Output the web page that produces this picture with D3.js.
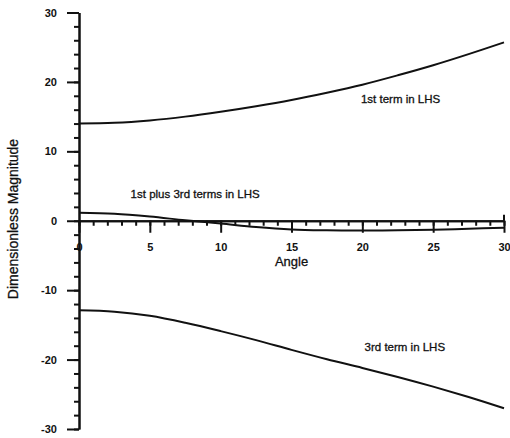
<!DOCTYPE html>
<html>
<head>
<meta charset="utf-8">
<script src="https://cdn.jsdelivr.net/npm/d3@7.9.0/dist/d3.min.js"></script>
<style>
  body { margin: 0; background: #fff; }
  svg { display: block; font-family: "Liberation Sans", Arial, sans-serif; }
  .tick text { font-weight: bold; font-size: 11px; fill: #111; }
  .domain, .tick line { stroke: #111; stroke-width: 2; }
</style>
</head>
<body>
<svg id="chart" width="510" height="438"></svg>
<script>
// --- DATA ---
const angles   = [0, 2.5, 5, 7.5, 10, 12.5, 15, 17.5, 20, 22.5, 25, 27.5, 30];
const firstLHS = [14.0, 14.1, 14.45, 15.0, 15.7, 16.5, 17.4, 18.45, 19.6, 20.95, 22.4, 24.0, 25.7];
const thirdLHS = [-12.9, -13.1, -13.7, -14.7, -15.9, -17.2, -18.6, -19.95, -21.2, -22.5, -23.9, -25.4, -27.0];
const sumLHS   = [1.15, 1.0, 0.6, 0.07, -0.4, -0.9, -1.25, -1.38, -1.42, -1.38, -1.3, -1.15, -1.0];

const xMajor = [0, 5, 10, 15, 20, 25, 30];
const yMajor = [-30, -20, -10, 0, 10, 20, 30];

const seriesLabels = [
  { text: '1st term in LHS', angle: 22.7, value: 17.0 },
  { text: '1st plus 3rd terms in LHS', angle: 8.2, value: 3.3 },
  { text: '3rd term in LHS', angle: 23.0, value: -18.7 }
];

// --- SCALES ---
const svg = d3.select('#chart');
const x = d3.scaleLinear().domain([0, 30]).range([79, 504]);
const y = d3.scaleLinear().domain([-30, 30]).range([429, 12.5]);

// y axis: minor then major ticks
svg.append('g')
  .attr('transform', `translate(${x(0)},0)`)
  .call(d3.axisLeft(y).tickValues(d3.range(-30, 31, 2)).tickSize(5).tickSizeOuter(0).tickFormat(''));
svg.append('g')
  .attr('transform', `translate(${x(0)},0)`)
  .call(d3.axisLeft(y).tickValues(yMajor).tickSize(12).tickSizeOuter(0).tickPadding(10).tickFormat(d => String(d)));

// x axis through zero
svg.append('g')
  .attr('transform', `translate(0,${y(0)})`)
  .call(d3.axisBottom(x).tickValues(d3.range(0, 31, 1)).tickSize(5).tickSizeOuter(0).tickFormat(''));
svg.append('g')
  .attr('transform', `translate(0,${y(0)})`)
  .call(d3.axisBottom(x).tickValues(xMajor).tickSize(12).tickSizeOuter(0).tickPadding(10).tickFormat(d => String(d)));

// small upward tick at the end of the x axis
svg.append('line')
  .attr('x1', x(30)).attr('x2', x(30))
  .attr('y1', y(0) - 6).attr('y2', y(0))
  .attr('stroke', '#111').attr('stroke-width', 2);

// --- LINES ---
const line = d3.line()
  .x(d => x(d[0]))
  .y(d => y(d[1]))
  .curve(d3.curveCatmullRom);

[firstLHS, thirdLHS, sumLHS].forEach(vals => {
  svg.append('path')
    .datum(angles.map((a, i) => [a, vals[i]]))
    .attr('d', line)
    .attr('fill', 'none')
    .attr('stroke', '#111')
    .attr('stroke-width', 2);
});

// --- LABELS ---
svg.selectAll('.series-label')
  .data(seriesLabels)
  .join('text')
  .attr('class', 'series-label')
  .attr('x', d => x(d.angle))
  .attr('y', d => y(d.value))
  .attr('text-anchor', 'middle')
  .attr('font-size', 11.5)
  .attr('fill', '#111')
  .attr('stroke', '#111')
  .attr('stroke-width', 0.3)
  .text(d => d.text);

svg.append('text')
  .attr('x', x(15))
  .attr('y', 266)
  .attr('text-anchor', 'middle')
  .attr('font-size', 13)
  .attr('fill', '#111')
  .attr('stroke', '#111')
  .attr('stroke-width', 0.3)
  .text('Angle');

svg.append('text')
  .attr('transform', 'translate(18,219) rotate(-90)')
  .attr('text-anchor', 'middle')
  .attr('font-size', 14)
  .attr('fill', '#111')
  .attr('stroke', '#111')
  .attr('stroke-width', 0.3)
  .text('Dimensionless Magnitude');
</script>
</body>
</html>
